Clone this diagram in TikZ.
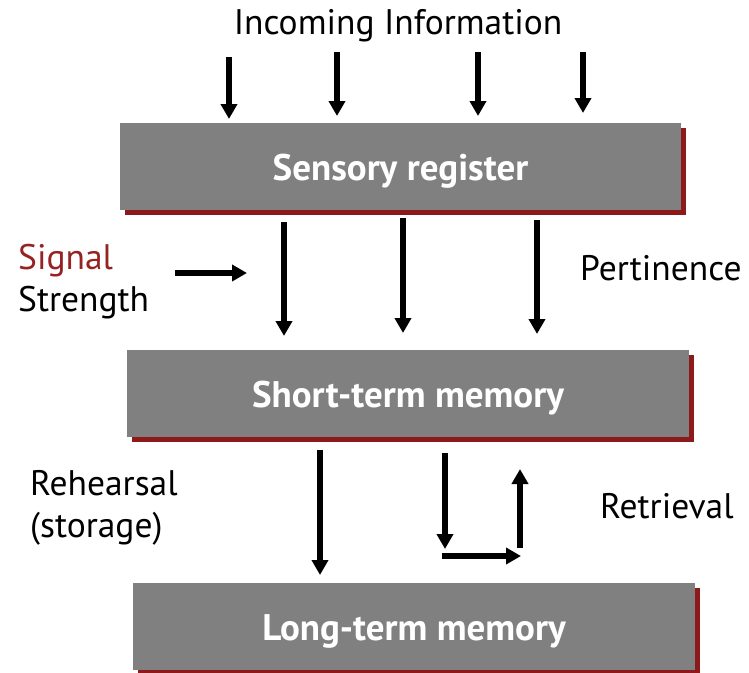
\documentclass[tikz,border=0pt]{standalone}
\usepackage{fontspec}
\setmainfont{PT Sans}
\usetikzlibrary{arrows.meta}
\definecolor{boxgray}{HTML}{808080}
\definecolor{shadowred}{HTML}{8C1A1A}
\definecolor{signalred}{HTML}{962222}
\newcommand{\stagetext}[1]{\raisebox{-14pt}[0pt][0pt]{#1}}
\tikzset{
  stage/.style={fill=boxgray, draw=none, inner sep=0pt, text=white,
    font=\fontsize{37}{42}\selectfont\bfseries},
  flow/.style={line width=5.4pt, -{Triangle[length=15pt,width=16pt]}},
  lbl/.style={font=\fontsize{35.5}{40}\selectfont, inner sep=0pt, anchor=base west},
}
\begin{document}
\begin{tikzpicture}[x=1pt,y=-1pt]
\useasboundingbox (0,0) rectangle (749,672);
% shadows
\fill[shadowred] (125,128) rectangle (686,215);
\fill[shadowred] (132,355) rectangle (694,442);
\fill[shadowred] (138,588) rectangle (700,676);
% stages
\node[stage, minimum width=561pt, minimum height=87pt] (sr) at (400.5,166.5) {\stagetext{Sensory register}};
\node[stage, minimum width=562pt, minimum height=87pt] (stm) at (408,393.5) {\stagetext{Short-term memory}};
\node[stage, minimum width=562pt, minimum height=87pt] (ltm) at (414,626) {\stagetext{Long-term memory}};
% labels
\node[lbl, anchor=base] (inc) at (398,34) {Incoming Information};
\node[lbl, text=signalred] (sig) at (18,269) {Signal};
\node[lbl] (str) at (18,311) {Strength};
\node[lbl] (pert) at (580,280) {Pertinence};
\node[lbl] (reh) at (30,495) {Rehearsal};
\node[lbl] (sto) at (30,537) {(storage)};
\node[lbl] (ret) at (600,518) {Retrieval};
% incoming arrows
\coordinate (i1) at (229,57); \coordinate (i2) at (337,52);
\coordinate (i3) at (478,52); \coordinate (i4) at (583,52);
\draw[flow] (i1) -- (229,119);
\draw[flow] (i2) -- (337,116);
\draw[flow] (i3) -- (478,116);
\draw[flow] (i4) -- (583,113);
% sensory register to short-term memory
\draw[flow] (284,222) -- (284,336);
\draw[flow] (403,218) -- (403,333);
\draw[flow] (537,220) -- (537,334);
\coordinate (s0) at (175,273);
\draw[flow] (s0) -- (247,273);
% short-term to long-term memory
\draw[flow] (320,450) -- (320,575);
\coordinate (r0) at (445,453);
\coordinate (r1) at (445,556);
\coordinate (r2) at (520,548);
\draw[flow] (r0) -- (445,549);
\draw[flow] ([xshift=-2.7pt]r1) -- (521,556);
\draw[flow] (r2) -- (520,469);
\end{tikzpicture}
\end{document}
